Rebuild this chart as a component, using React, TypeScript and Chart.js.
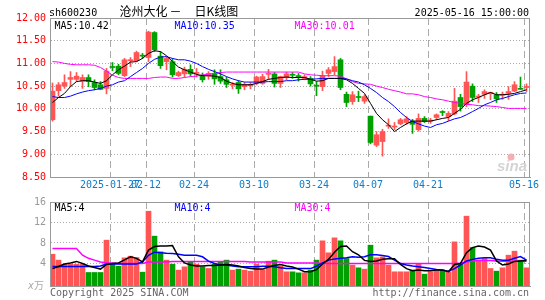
import React, { useEffect, useRef } from 'react';
import { Chart, registerables } from 'chart.js';
Chart.register(...registerables);

// ---------- data ----------
const dates = [
  '2025-01-13','2025-01-14','2025-01-15','2025-01-16','2025-01-17','2025-01-20','2025-01-21','2025-01-22','2025-01-23','2025-01-24','2025-01-27',
  '2025-02-05','2025-02-06','2025-02-07','2025-02-10','2025-02-11','2025-02-12','2025-02-13','2025-02-14','2025-02-17','2025-02-18','2025-02-19','2025-02-20','2025-02-21','2025-02-24','2025-02-25','2025-02-26','2025-02-27','2025-02-28',
  '2025-03-03','2025-03-04','2025-03-05','2025-03-06','2025-03-07','2025-03-10','2025-03-11','2025-03-12','2025-03-13','2025-03-14','2025-03-17','2025-03-18','2025-03-19','2025-03-20','2025-03-21','2025-03-24','2025-03-25','2025-03-26','2025-03-27','2025-03-28','2025-03-31',
  '2025-04-01','2025-04-02','2025-04-03','2025-04-07','2025-04-08','2025-04-09','2025-04-10','2025-04-11','2025-04-14','2025-04-15','2025-04-16','2025-04-17','2025-04-18','2025-04-21','2025-04-22','2025-04-23','2025-04-24','2025-04-25','2025-04-28','2025-04-29','2025-04-30',
  '2025-05-06','2025-05-07','2025-05-08','2025-05-09','2025-05-12','2025-05-13','2025-05-14','2025-05-15','2025-05-16'
];

const openP = [9.76,10.40,10.50,10.65,10.65,10.61,10.69,10.58,10.53,10.45,
  10.93,10.94,10.73,11.06,11.06,11.17,11.13,11.68,11.16,11.04,
  11.04,10.73,10.77,10.87,10.78,10.72,10.72,10.78,10.71,10.64,
  10.52,10.58,10.49,10.51,10.56,10.56,10.76,10.77,10.56,10.69,
  10.75,10.72,10.67,10.67,10.51,10.49,10.78,10.82,11.08,10.32,
  10.16,10.26,10.17,9.84,9.20,9.28,9.62,9.60,9.67,9.70,
  9.73,9.54,9.79,9.73,9.81,9.93,9.83,9.89,10.25,10.09,
  10.50,10.26,10.32,10.34,10.31,10.30,10.34,10.39,10.44,10.47];

const closeP = [10.39,10.53,10.58,10.69,10.72,10.69,10.60,10.47,10.43,10.83,
  10.91,10.78,11.08,11.08,11.24,11.16,11.69,11.30,10.95,11.11,
  10.75,10.80,10.87,10.77,10.79,10.64,10.78,10.66,10.61,10.54,
  10.53,10.44,10.54,10.54,10.70,10.71,10.77,10.56,10.71,10.77,
  10.74,10.71,10.71,10.55,10.50,10.72,10.86,10.93,10.47,10.14,
  10.31,10.25,10.27,9.26,9.43,9.50,9.63,9.61,9.76,9.78,
  9.66,9.79,9.72,9.74,9.87,9.92,9.90,10.17,10.05,10.59,
  10.25,10.27,10.38,10.35,10.22,10.31,10.38,10.53,10.43,10.48];

const highP = [10.57,10.58,10.75,10.82,10.80,10.75,10.75,10.64,10.60,10.89,
  11.02,10.98,11.11,11.13,11.27,11.22,11.71,11.70,11.26,11.15,
  11.11,10.83,10.92,10.97,10.89,10.79,10.82,10.86,10.86,10.70,
  10.58,10.62,10.58,10.58,10.72,10.76,10.87,10.80,10.72,10.81,
  10.80,10.78,10.75,10.71,10.60,10.83,10.91,11.15,11.11,10.37,
  10.38,10.39,10.31,9.84,9.50,9.55,9.78,9.70,9.79,9.83,
  9.77,9.89,9.83,9.79,9.89,9.96,9.94,10.45,10.32,10.82,
  10.55,10.32,10.42,10.37,10.36,10.37,10.49,10.60,10.70,10.55];

const lowP = [9.73,10.28,10.45,10.49,10.60,10.45,10.49,10.42,10.42,10.33,
  10.84,10.75,10.71,10.93,11.04,11.11,11.04,11.26,10.89,10.86,
  10.70,10.71,10.70,10.72,10.70,10.59,10.65,10.54,10.56,10.47,
  10.44,10.34,10.42,10.44,10.53,10.54,10.65,10.48,10.47,10.64,
  10.67,10.61,10.64,10.50,10.29,10.40,10.71,10.75,10.42,10.05,
  10.10,10.16,10.12,9.23,9.17,8.96,9.57,9.54,9.65,9.66,
  9.46,9.51,9.70,9.68,9.76,9.85,9.74,9.87,9.95,10.05,
  10.16,10.14,10.23,10.20,10.14,10.21,10.21,10.38,10.43,10.38];

const ma5 = [10.14,10.25,10.34,10.49,10.60,10.62,10.62,10.59,10.56,10.62,
  10.75,10.86,10.94,11.03,11.04,11.11,11.22,11.28,11.26,11.17,
  11.04,10.92,10.86,10.81,10.76,10.73,10.73,10.72,10.69,10.61,
  10.56,10.53,10.53,10.53,10.56,10.60,10.65,10.67,10.69,10.70,
  10.69,10.69,10.69,10.65,10.61,10.62,10.67,10.67,10.67,10.64,
  10.56,10.45,10.34,10.12,9.90,9.76,9.65,9.50,9.59,9.67,
  9.73,9.73,9.73,9.73,9.76,9.79,9.81,9.90,9.99,10.12,
  10.20,10.25,10.31,10.36,10.31,10.31,10.32,10.34,10.38,10.42];

const ma10 = [10.27,10.25,10.25,10.28,10.33,10.37,10.40,10.42,10.45,10.50,
  10.53,10.59,10.62,10.71,10.80,10.89,11.00,11.09,11.14,11.15,
  11.11,11.08,11.08,11.05,11.00,10.93,10.87,10.82,10.77,10.71,
  10.66,10.62,10.59,10.59,10.59,10.59,10.60,10.60,10.60,10.62,
  10.62,10.64,10.65,10.65,10.66,10.67,10.67,10.67,10.67,10.66,
  10.62,10.59,10.53,10.45,10.36,10.25,10.16,10.05,9.92,9.81,
  9.72,9.67,9.62,9.59,9.65,9.68,9.73,9.78,9.81,9.87,
  9.94,10.01,10.09,10.14,10.20,10.23,10.27,10.31,10.34,10.35];

const ma30 = [11.04,11.03,11.00,10.98,10.97,10.97,10.97,10.96,10.91,10.83,
  10.74,10.69,10.67,10.67,10.67,10.67,10.67,10.69,10.70,10.70,
  10.67,10.67,10.69,10.71,10.72,10.75,10.76,10.78,10.80,10.81,
  10.81,10.81,10.81,10.81,10.81,10.81,10.81,10.81,10.81,10.81,
  10.81,10.81,10.77,10.75,10.74,10.73,10.73,10.73,10.72,10.66,
  10.60,10.56,10.55,10.54,10.50,10.47,10.43,10.40,10.37,10.33,
  10.33,10.31,10.27,10.25,10.22,10.20,10.17,10.14,10.12,10.10,
  10.09,10.07,10.07,10.06,10.05,10.03,10.01,10.01,10.01,10.01];

// volume in 万手
const volume = [5.8,4.65,3.86,3.86,3.86,3.86,2.24,2.24,2.24,8.55,
  3.86,3.47,5.1,5.42,5.16,2.3,14.2,9.33,6.27,4.65,
  3.86,2.7,3.34,4.3,3.86,3.34,3.02,3.86,4.3,4.65,
  2.7,2.89,2.7,2.5,3.86,2.8,4.45,4.65,3.47,2.37,
  2.37,2.17,2.17,2.7,4.65,8.42,6.08,9.0,8.42,4.97,
  3.67,3.15,2.89,7.57,5.1,5.29,3.67,2.37,2.37,2.37,
  2.7,3.86,1.91,2.37,2.7,2.7,2.37,8.22,3.86,13.23,
  7.12,4.65,4.97,3.02,2.5,3.15,5.62,6.4,4.65,3.15];

const volMa5 = [3.0,3.4,3.9,4.1,4.4,4.0,3.5,3.2,2.9,3.8,
  4.0,4.1,4.7,5.3,5.0,4.3,6.6,7.3,7.4,7.4,
  7.5,5.3,4.1,3.7,3.5,3.5,3.6,3.6,3.7,3.8,
  3.7,3.5,3.2,3.0,2.9,2.9,3.3,3.6,3.8,3.5,
  3.3,2.9,2.4,2.4,2.8,3.9,4.8,6.2,7.3,7.4,
  6.3,5.7,4.6,4.4,4.5,4.8,4.9,4.9,3.8,3.0,
  2.6,2.7,2.6,2.6,2.7,2.7,2.4,3.8,4.0,6.1,
  7.1,7.4,7.2,6.6,4.5,3.7,3.9,4.4,4.5,4.6];

const volMa10 = [3.4,3.4,3.4,3.4,3.4,3.4,3.4,3.4,3.5,3.9,
  3.9,3.9,3.9,3.9,3.9,4.3,5.6,6.2,6.1,6.0,
  5.95,5.8,5.6,5.6,5.6,5.3,4.45,4.0,3.7,3.7,
  3.5,3.35,3.35,3.35,3.35,3.45,3.45,3.35,3.15,3.0,
  3.0,3.0,3.0,3.0,3.45,4.1,4.65,4.85,5.0,5.1,
  5.3,5.2,5.3,5.7,5.7,5.55,5.35,4.65,4.0,3.7,
  3.5,3.35,3.2,3.0,2.8,2.7,2.5,3.0,3.7,4.5,
  4.8,5.0,5.1,5.1,4.8,4.65,4.65,5.0,5.35,4.65];

const volMa30 = [6.93,6.93,6.93,6.93,6.93,5.6,5.0,4.65,4.3,4.15,
  4.1,4.0,4.0,4.0,4.0,4.0,4.3,4.3,4.3,4.3,
  4.4,4.4,4.4,4.4,4.4,4.4,4.4,4.4,4.4,4.4,
  4.4,4.4,4.4,4.3,4.3,4.3,4.3,4.3,4.3,4.1,
  4.1,4.1,4.1,4.1,4.1,4.0,4.0,4.0,4.0,4.0,
  4.0,4.0,4.0,4.0,4.0,4.0,4.0,4.0,4.0,4.0,
  4.0,4.0,4.0,4.0,4.0,4.0,4.0,4.0,4.1,4.3,
  4.5,4.6,4.6,4.6,4.5,4.45,4.45,4.45,4.45,4.45];

const tickIndex = [10, 16, 24, 34, 44, 53, 63, 79];
const priceTicks = [8.5, 9, 9.5, 10, 10.5, 11, 11.5, 12];
const volTicks = [4, 8, 12, 16];

// ---------- styles ----------
const UP = '#ff5555';
const DOWN = '#00a000';
const MONO = '"DejaVu Sans Mono", "Liberation Mono", monospace';
const CJK = '"Noto Sans CJK SC", sans-serif';
const GRID = '#aaaaaa';
const BORDER = '#999999';
const SHIFT = 5 / 12; // candle centre offset inside a 6px slot

const tickText = tickIndex.map((i, k) => (k === 0 ? dates[i] : dates[i].slice(5)));
const isUp = closeP.map((c, i) => c >= openP[i]);
const candleColors = isUp.map((u) => (u ? UP : DOWN));
const pts = (arr: number[]) => arr.map((v, i) => ({ x: i, y: v }));

const framePlugin = {
  id: 'frame',
  afterDraw(chart: any) {
    const { ctx, chartArea: a } = chart;
    ctx.save();
    ctx.strokeStyle = BORDER;
    ctx.lineWidth = 1;
    ctx.strokeRect(Math.round(a.left) + 0.5, Math.round(a.top) + 0.5, Math.round(a.right - a.left) - 1, Math.round(a.bottom - a.top));
    ctx.restore();
  },
};

const mainText = {
  id: 'mainText',
  afterDraw(chart: any) {
    const ctx = chart.ctx;
    ctx.save();
    ctx.textBaseline = 'alphabetic';
    ctx.textAlign = 'left';
    ctx.fillStyle = '#000';
    ctx.font = `10px ${MONO}`;
    ctx.fillText('sh600230', 49, 15.5);
    ctx.font = `12px ${CJK}`;
    ctx.fillText('沧州大化', 119.5, 15.5);
    ctx.fillText('－', 169.5, 15.5);
    ctx.fillText('日K线图', 194.5, 15.5);
    ctx.font = `10px ${MONO}`;
    ctx.textAlign = 'right';
    ctx.fillText('2025-05-16 15:00:00', 529, 15.5);
    ctx.textAlign = 'left';
    const n = ma5.length - 1;
    ctx.fillStyle = '#000';
    ctx.fillText('MA5:' + ma5[n].toFixed(2), 54.5, 28.5);
    ctx.fillStyle = '#0000ff';
    ctx.fillText('MA10:' + ma10[n].toFixed(2), 174.5, 28.5);
    ctx.fillStyle = '#ff00ff';
    ctx.fillText('MA30:' + ma30[n].toFixed(2), 294.5, 28.5);
    // sina watermark
    ctx.font = 'italic bold 15px "Liberation Sans", sans-serif';
    ctx.fillStyle = '#d4d4d4';
    ctx.fillText('sina', 497, 171);
    ctx.fillStyle = '#f4b0b0';
    ctx.beginPath();
    ctx.arc(511, 157, 3.5, 0, Math.PI * 2);
    ctx.fill();
    ctx.restore();
  },
};

const volText = {
  id: 'volText',
  afterDraw(chart: any) {
    const ctx = chart.ctx;
    const n = volMa5.length - 1;
    ctx.save();
    ctx.textBaseline = 'alphabetic';
    ctx.textAlign = 'left';
    ctx.font = `10px ${MONO}`;
    ctx.fillStyle = '#000';
    ctx.fillText('MA5:' + Math.floor(volMa5[n]), 54.5, 20.5);
    ctx.fillStyle = '#0000ff';
    ctx.fillText('MA10:' + Math.floor(volMa10[n]), 174.5, 20.5);
    ctx.fillStyle = '#ff00ff';
    ctx.fillText('MA30:' + Math.floor(volMa30[n]), 294.5, 20.5);
    ctx.fillStyle = '#aaa';
    ctx.font = `italic 10px ${MONO}`;
    ctx.fillText('x', 28, 99);
    ctx.font = `10px ${CJK}`;
    ctx.fillText('万', 34, 99);
    ctx.font = `10px ${MONO}`;
    ctx.fillStyle = '#666';
    ctx.fillText('Copyright 2025 SINA.COM', 50, 106);
    ctx.textAlign = 'right';
    ctx.fillText('http://finance.sina.com.cn', 529, 106);
    ctx.restore();
  },
};

function xScale(showLabels: boolean) {
  return {
    type: 'linear',
    offset: false,
    min: -SHIFT,
    max: dates.length - SHIFT,
    afterBuildTicks: (s: any) => {
      s.ticks = tickIndex.map((i) => ({ value: i - SHIFT }));
    },
    afterFit: (s: any) => {
      s.height = showLabels ? 13 : 0;
    },
    ticks: {
      display: showLabels,
      autoSkip: false,
      maxRotation: 0,
      minRotation: 0,
      padding: 2,
      color: '#0f7cc8',
      font: { family: MONO, size: 10 },
      callback: (_v: any, idx: number) => tickText[idx],
    },
    grid: { color: GRID, lineWidth: 1, drawTicks: false, offset: false },
    border: { display: true, color: BORDER, dash: [7, 4] },
  };
}

function lineDs(data: number[], color: string, width = 1) {
  return {
    type: 'line',
    data: pts(data),
    borderColor: color,
    borderWidth: width,
    pointRadius: 0,
    tension: 0,
    fill: false,
    order: 0,
  };
}

function barDs(data: any[], thickness: number, order: number, extra: any = {}) {
  return {
    type: 'bar',
    data,
    backgroundColor: candleColors,
    barPercentage: 1,
    categoryPercentage: 1,
    maxBarThickness: thickness,
    minBarLength: 1,
    grouped: false,
    borderWidth: 0,
    order,
    ...extra,
  };
}

export default function App() {
  const mainRef = useRef<HTMLCanvasElement>(null);
  const volRef = useRef<HTMLCanvasElement>(null);

  useEffect(() => {
    const main = new Chart(mainRef.current as HTMLCanvasElement, {
      type: 'bar',
      data: {
        datasets: [
          lineDs(ma5, '#000000'),
          lineDs(ma10, '#0000ff'),
          lineDs(ma30, '#ff00ff'),
          barDs(openP.map((o, i) => ({ x: i, y: [o, closeP[i]] })), 5, 1),
          barDs(lowP.map((l, i) => ({ x: i, y: [l, highP[i]] })), 1, 2),
        ],
      } as any,
      options: {
        responsive: false,
        animation: false,
        devicePixelRatio: 1,
        events: [],
        layout: { padding: { top: 18, right: 15, left: 0, bottom: 0 } },
        plugins: { legend: { display: false }, tooltip: { enabled: false } },
        scales: {
          x: xScale(true),
          y: {
            type: 'linear',
            min: 8.5,
            max: 12,
            afterBuildTicks: (s: any) => {
              s.ticks = priceTicks.map((v) => ({ value: v }));
            },
            afterFit: (s: any) => {
              s.width = 50;
            },
            ticks: {
              color: '#ff0000',
              padding: 4,
              font: { family: MONO, size: 10 },
              callback: (v: any) => Number(v).toFixed(2),
            },
            grid: { color: GRID, drawTicks: false },
            border: { color: BORDER, dash: [1, 2] },
          },
        },
      } as any,
      plugins: [framePlugin, mainText],
    });

    const vol = new Chart(volRef.current as HTMLCanvasElement, {
      type: 'bar',
      data: {
        datasets: [
          lineDs(volMa5, '#000000', 1.5),
          lineDs(volMa10, '#0000ff', 1.5),
          lineDs(volMa30, '#ff00ff', 1.5),
          barDs(volume.map((v, i) => ({ x: i, y: v })), 5, 1, { base: -0.4 }),
        ],
      } as any,
      options: {
        responsive: false,
        animation: false,
        devicePixelRatio: 1,
        events: [],
        layout: { padding: { top: 12, right: 15, left: 0, bottom: 14 } },
        plugins: { legend: { display: false }, tooltip: { enabled: false } },
        scales: {
          x: xScale(false),
          y: {
            type: 'linear',
            min: -0.4,
            max: 16,
            afterBuildTicks: (s: any) => {
              s.ticks = volTicks.map((v) => ({ value: v }));
            },
            afterFit: (s: any) => {
              s.width = 50;
            },
            ticks: {
              color: '#999999',
              padding: 4,
              font: { family: MONO, size: 10 },
              callback: (v: any) => String(v),
            },
            grid: { color: GRID, drawTicks: false },
            border: { color: BORDER, dash: [1, 2] },
          },
        },
      } as any,
      plugins: [framePlugin, volText],
    });

    return () => {
      main.destroy();
      vol.destroy();
    };
  }, []);

  return (
    <div style={{ position: 'fixed', left: 0, top: 0, width: 545, height: 300, background: '#fff', overflow: 'hidden' }}>
      <canvas ref={mainRef} width={545} height={190} style={{ position: 'absolute', left: 0, top: 0, width: 545, height: 190 }} />
      <canvas ref={volRef} width={545} height={110} style={{ position: 'absolute', left: 0, top: 190, width: 545, height: 110 }} />
    </div>
  );
}
